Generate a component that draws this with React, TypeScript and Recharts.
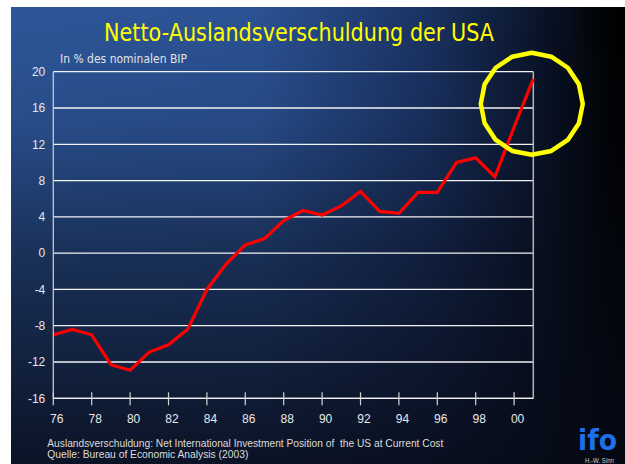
import React from "react";
import { LineChart, Line, XAxis, YAxis, CartesianGrid, ReferenceDot, ReferenceLine } from "recharts";

const years = [1976,1977,1978,1979,1980,1981,1982,1983,1984,1985,1986,1987,1988,1989,1990,1991,1992,1993,1994,1995,1996,1997,1998,1999,2000,2001];
const debtShare = [-9.0,-8.4,-9.0,-12.3,-12.9,-10.9,-10.1,-8.4,-4.0,-1.2,0.9,1.6,3.6,4.7,4.2,5.2,6.8,4.6,4.4,6.7,6.7,10.0,10.5,8.4,13.9,19.2];
const yTicks = [-16,-12,-8,-4,0,4,8,12,16,20];
const xTicks = [1976,1978,1980,1982,1984,1986,1988,1990,1992,1994,1996,1998,2000];

const title = "Netto-Auslandsverschuldung der USA";
const unitLabel = "In % des nominalen BIP";
const note1 = "Auslandsverschuldung: Net International Investment Position of  the US at Current Cost";
const note2 = "Quelle: Bureau of Economic Analysis (2003)";

const data = years.map((y, i) => ({ year: y, value: debtShare[i] }));

const XTick = (props: any) => {
  const { x, y, payload } = props;
  const label = String(payload.value % 100).padStart(2, "0");
  return (
    <g>
      <line x1={x} x2={x} y1={y - 6} y2={y + 7} stroke="#d4d4d4" strokeWidth={1.2} />
      <text x={x + 3.5} y={y + 24.5} textAnchor="middle" fill="#e8e8e8" fontSize={12} fontFamily="Liberation Sans, Arial, sans-serif">
        {label}
      </text>
    </g>
  );
};

const Ring = (props: any) => {
  const { cx, cy } = props;
  const r = 51;
  const n = 16;
  const pts: string[] = [];
  for (let i = 0; i < n; i++) {
    const a = -Math.PI / 2 + (i * 2 * Math.PI) / n;
    pts.push(`${cx + r * Math.cos(a)},${cy + r * Math.sin(a)}`);
  }
  return <polygon points={pts.join(" ")} fill="none" stroke="#ffff00" strokeWidth={4.5} strokeLinejoin="round" />;
};

export default function App() {
  return (
    <div
      style={{
        position: "absolute",
        left: 11,
        top: 7,
        width: 614,
        height: 457,
        overflow: "hidden",
        background:
          "linear-gradient(to bottom, rgba(6,10,22,0) 0%, rgba(6,10,22,0.12) 25%, rgba(6,10,22,0.5) 55%, rgba(6,10,22,0.88) 100%), linear-gradient(to right, #2d5699 0%, #2b5294 40%, #1a3262 68%, #0a1429 86%, #010204 97%, #000 100%)",
      }}
    >
      <LineChart
        width={614}
        height={457}
        data={data}
        margin={{ top: 64.7, right: 91.7, bottom: 35.7, left: 2.3 }}
        style={{ position: "absolute", left: 0, top: 0 }}
      >
        <CartesianGrid horizontal vertical={false} stroke="#f2f2f2" strokeWidth={1.3} />
        <XAxis
          dataKey="year"
          type="number"
          domain={[1976, 2001]}
          ticks={xTicks}
          interval={0}
          height={30}
          tickSize={0}
          tickMargin={0}
          tickLine={false}
          axisLine={{ stroke: "#f2f2f2", strokeWidth: 1.3 }}
          tick={<XTick />}
        />
        <YAxis
          type="number"
          domain={[-16, 20]}
          ticks={yTicks}
          interval={0}
          width={40}
          tickLine={false}
          axisLine={{ stroke: "#c8c8c8", strokeWidth: 1.3 }}
          tick={{ fill: "#e8e8e8", fontSize: 12, fontFamily: "Liberation Sans, Arial, sans-serif" }}
        />
        <ReferenceLine x={2001} stroke="#b4b4b4" strokeWidth={1.5} ifOverflow="visible" />
        <Line
          type="linear"
          dataKey="value"
          stroke="#ff0000"
          strokeWidth={3.2}
          dot={false}
          isAnimationActive={false}
        />
        <ReferenceDot x={2000.92} y={16.46} r={51} ifOverflow="visible" shape={<Ring />} />
      </LineChart>
      <svg width={614} height={457} style={{ position: "absolute", left: 0, top: 0, pointerEvents: "none" }}>
        <text x={93} y={33.7} fill="#ffff00" fontSize={24} fontFamily="DejaVu Sans, sans-serif" textLength={390} lengthAdjust="spacingAndGlyphs">
          {title}
        </text>
        <text x={49} y={56.3} fill="#e4e4e4" fontSize={12} fontFamily="DejaVu Sans, sans-serif" textLength={127} lengthAdjust="spacingAndGlyphs">
          {unitLabel}
        </text>
        <text x={36.3} y={440.3} fill="#dcdcdc" fontSize={10.3} fontFamily="Liberation Sans, Arial, sans-serif" textLength={396} lengthAdjust="spacingAndGlyphs" style={{ whiteSpace: "pre" }}>
          {note1}
        </text>
        <text x={36.3} y={451.3} fill="#dcdcdc" fontSize={10.3} fontFamily="Liberation Sans, Arial, sans-serif" textLength={201} lengthAdjust="spacingAndGlyphs">
          {note2}
        </text>
        <text x={567} y={442.5} fill="#1f6fe8" fontSize={29} fontWeight={900} fontFamily="DejaVu Sans, sans-serif" textLength={39} lengthAdjust="spacingAndGlyphs">
          ifo
        </text>
        <text x={574} y={455.5} fill="#cfcfcf" fontSize={6.5} fontFamily="Liberation Sans, Arial, sans-serif" textLength={29} lengthAdjust="spacingAndGlyphs">
          H.-W. Sinn
        </text>
      </svg>
    </div>
  );
}
